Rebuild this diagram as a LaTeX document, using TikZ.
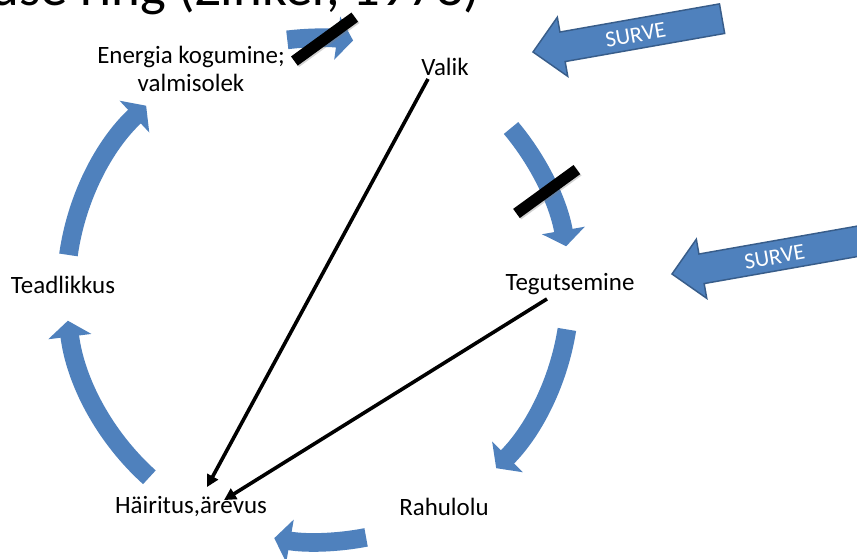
\documentclass[tikz,border=0pt]{standalone}
\usepackage{fontspec}
\setmainfont{Carlito}
\usepackage{xcolor}
\usepackage{tikz}
\usetikzlibrary{positioning, arrows.meta, calc, shadows}

\definecolor{cycblue}{HTML}{4F81BD}
\definecolor{cycedge}{HTML}{385D8A}

\begin{document}
\begin{tikzpicture}[
        x=0.75pt, y=0.75pt,
        stage/.style={font=\fontsize{18.7}{21}\selectfont, inner sep=0pt, text height=0.65em, text depth=0.2em},
        stagetwo/.style={font=\fontsize{18.7}{21}\selectfont, inner sep=0pt, align=center},
        cycarrow/.style={cycblue, line width=14pt, -{Triangle[length=12pt, width=32pt]}},
        blocker/.style={fill=black, inner sep=0pt, minimum width=56pt, minimum height=8.5pt, rotate=36,
            drop shadow={shadow xshift=1pt, shadow yshift=-1pt, opacity=0.35}},
        link/.style={line width=2.7pt, -{Triangle[length=9pt, width=9pt]}},
        pressure/.style={fill=cycblue, draw=cycedge, line width=1.1pt},
    ]

    % frame of the slide cut (centre of the cycle at the origin)
    \useasboundingbox (-318,-268) rectangle (539,290);
    \clip (-318,-268) rectangle (539,290);
    \fill[white] (-318,-268) rectangle (539,290);

    % === TITLE (cut at the top) ===
    \node[font=\fontsize{41}{41}\selectfont, anchor=base east] (title) at (167, 285) {Kogemuse ring (Zinker, 1978)};

    % === CYCLE ARROWS ===
    \foreach \s/\e in {172/133, 97/82, 40/10, -9/-45, -79/-100, -132/-173}
        \draw[cycarrow] (\s:252) arc[start angle=\s, end angle=\e, radius=252];

    % Blocked steps
    \node[blocker] (bar1) at (88.5:251) {};
    \node[blocker] (bar2) at (23.3:249) {};

    % === STAGES ===
    \node[stagetwo] (energia) at (-127, 221) {Energia kogumine;\\valmisolek};
    \node[stage] (valik) at (127, 218) {Valik};
    \node[stage] (tegut) at (252, 3) {Tegutsemine};
    \node[stage] (rahulolu) at (126, -222) {Rahulolu};
    \node[stage] (hairitus) at (-127, -220) {Häiritus,ärevus};
    \node[stage] (teadlik) at (-255, 0) {Teadlikkus};

    % Short cuts to disturbance
    \draw[link] ($(valik.south west)+(7,-1)$) -- ($(hairitus.north)+(16,17)$);
    \draw[link] ($(tegut.south)+(-23,-6)$) -- ($(hairitus.north)+(33,4)$);

    % === PRESSURE ARROWS ===
    \foreach \tx/\ty/\nm in {215/238/surveA, 354/16/surveB} {
        \begin{scope}[shift={(\tx,\ty)}, rotate=10]
            \draw[pressure] (0,0) -- (30,30) -- (30,15) -- (192,15) -- (192,-15) -- (30,-15) -- (30,-30) -- cycle;
            \node[font=\fontsize{17}{17}\selectfont, text=white, rotate=10] (\nm) at (104,-1) {SURVE};
        \end{scope}
    }

\end{tikzpicture}
\end{document}
